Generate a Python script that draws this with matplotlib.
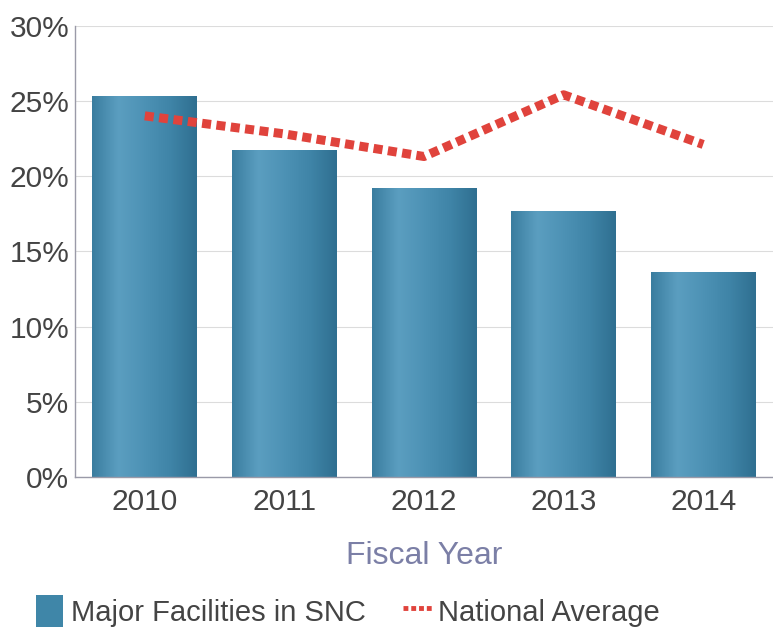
import numpy as np
import matplotlib.pyplot as plt
from matplotlib.colors import LinearSegmentedColormap

plt.rcParams['font.family'] = ['Liberation Sans', 'DejaVu Sans']

years = ['2010', '2011', '2012', '2013', '2014']
snc_pct = [25.3, 21.7, 19.2, 17.7, 13.6]
national_pct = [24.0, 22.8, 21.3, 25.4, 22.1]

fig = plt.figure(figsize=(7.73, 6.38), dpi=100)
ax = fig.add_axes([0.097, 0.252, 0.903, 0.708])

x = np.arange(len(years))
bars = ax.bar(x, snc_pct, width=0.75, color='#3f86a8', zorder=2,
              label='Major Facilities in SNC')

# cylinder-like shading across each bar
shade = LinearSegmentedColormap.from_list(
    'shade', ['#3a7d9f', '#5b9ec0', '#4d92b5', '#3f84a7', '#2f6f90'])
grad = np.linspace(0, 1, 256).reshape(1, -1)
for b in bars:
    x0, y0 = b.get_x(), b.get_y()
    im = ax.imshow(grad, cmap=shade, aspect='auto', zorder=2.5,
                   extent=[x0, x0 + b.get_width(), y0, y0 + b.get_height()])
    im.set_clip_path(b)

line, = ax.plot(x, national_pct, color='#e0433c', lw=6.5, dashes=(1.0, 0.6),
                dash_capstyle='butt', zorder=3, label='National Average')

ax.set_xlim(-0.5, 4.5)
ax.set_ylim(0, 30)
ax.set_yticks(range(0, 31, 5))
ax.set_yticklabels([f'{v}%' for v in range(0, 31, 5)])
ax.set_xticks(x)
ax.set_xticklabels(years)
ax.grid(axis='y', color='#dcdcdc', lw=0.8, zorder=0)
ax.set_axisbelow(True)

for side in ['top', 'right']:
    ax.spines[side].set_visible(False)
for side in ['left', 'bottom']:
    ax.spines[side].set_color('#9a9aa8')
    ax.spines[side].set_linewidth(1.0)
ax.tick_params(axis='both', labelsize=21.5, colors='#9a9aa8', labelcolor='#444444',
               length=0, pad=4)
ax.tick_params(axis='x', pad=8)

ax.set_xlabel('Fiscal Year', fontsize=23, color='#7b7fa6', labelpad=18)

leg = fig.legend([bars, line], ['Major Facilities in SNC', 'National Average'],
                 loc='lower left', bbox_to_anchor=(0.012, -0.024), ncol=2,
                 frameon=False, fontsize=21, handlelength=1.0, handleheight=1.3,
                 handletextpad=0.2, columnspacing=1.3, labelcolor='#444444')
leg.legend_handles[0].set_width(20)
leg.legend_handles[1].set_linewidth(3.5)
leg.legend_handles[1].set_dashes((1.0, 0.6))

fig.savefig('out.png', dpi=100)
